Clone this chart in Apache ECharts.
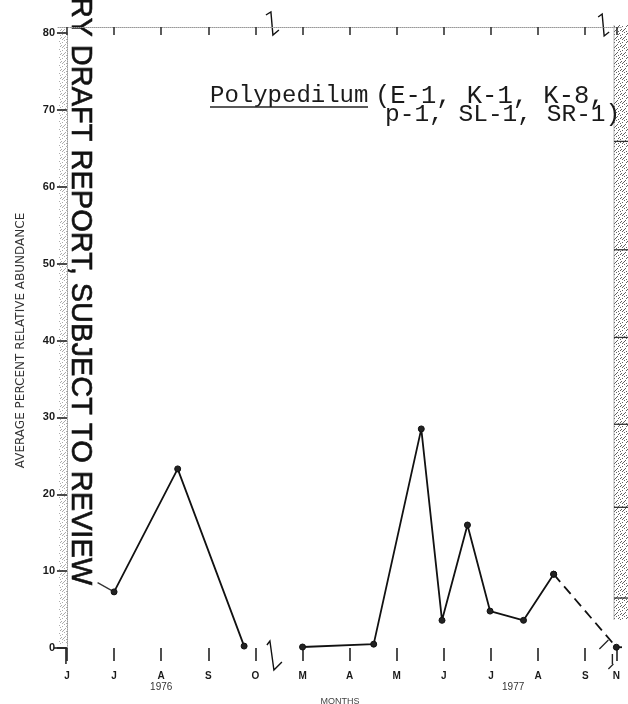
<!DOCTYPE html>
<html>
<head>
<meta charset="utf-8">
<title>Polypedilum relative abundance</title>
<script src="https://cdn.jsdelivr.net/npm/echarts@6/dist/echarts.min.js"></script>
<style>
  html, body { margin: 0; padding: 0; background: #ffffff; }
  #chart { width: 628px; height: 704px; }
</style>
</head>
<body>
<div id="chart"></div>
<script>
// Month ticks along the sampling period (1976 and 1977, with a break between seasons)
const monthLabels = ['J', 'J', 'A', 'S', 'O', 'M', 'A', 'M', 'J', 'J', 'A', 'S', 'N'];
const monthPos = [0, 1, 2, 3, 4, 5, 6, 7, 8, 9, 10, 11, 11.66];
const yearLabels = ['1976', '1977'];
const yearPos = [2, 9.47];

// Average percent relative abundance; x is the position in months on the axis
const lead1976 = [[0.65, 8.5], [1.0, 7.3]];
const season1976 = [[1.0, 7.3], [2.35, 23.3], [3.76, 0.25]];
const season1977 = [[5.0, 0.13], [6.51, 0.5], [7.52, 28.5], [7.96, 3.6], [8.5, 16.0], [8.98, 4.8], [9.69, 3.6], [10.33, 9.6]];
const lateSeason1977 = [[10.33, 9.6], [11.66, 0.1]];
const tail1977 = [[11.66, 0.1], [11.78, 0.1]];

// Tick marks on the shaded right-hand margin (percent scale)
const marginTicks = [65.9, 51.8, 40.4, 29.1, 18.3, 6.5];

const X_MIN = -0.19, X_MAX = 11.78;

function stipple(alpha) {
  const c = document.createElement('canvas');
  c.width = 8; c.height = 8;
  const g = c.getContext('2d');
  g.fillStyle = 'rgba(70,70,70,' + alpha + ')';
  [[0,0],[3,1],[6,2],[1,4],[5,5],[2,7],[7,6],[4,3],[6,7],[2,2],[0,5],[4,6]].forEach(function (d) { g.fillRect(d[0], d[1], 1, 1); });
  return c;
}

const labelFont = { fontFamily: 'Liberation Sans', fontWeight: 'bold', fontSize: 11, color: '#1a1a1a' };
const lineStyle = { color: '#111', width: 1.8 };
const markStyle = { color: '#222', borderColor: '#111', borderWidth: 1 };

const chart = echarts.init(document.getElementById('chart'), null, { renderer: 'canvas' });

chart.setOption({
  backgroundColor: '#ffffff',
  animation: false,
  grid: { left: 58, right: 6, top: 33, bottom: 56, outerBoundsMode: 'none', containLabel: false },
  xAxis: [
    {
      type: 'value', min: X_MIN, max: X_MAX, position: 'bottom', offset: 4,
      axisLine: { show: false },
      splitLine: { show: false },
      axisTick: { show: true, length: 13, customValues: monthPos, lineStyle: { color: '#222', width: 1.6 } },
      axisLabel: {
        show: true, margin: 19, customValues: monthPos, ...labelFont, fontSize: 10,
        formatter: function (v) { const i = monthPos.indexOf(v); return i >= 0 ? monthLabels[i] : ''; }
      }
    },
    {
      type: 'value', min: X_MIN, max: X_MAX, position: 'bottom', offset: 4,
      axisLine: { show: false }, splitLine: { show: false }, axisTick: { show: false },
      axisLabel: {
        show: true, margin: 30, customValues: yearPos, fontFamily: 'Liberation Sans', fontSize: 10, color: '#333',
        formatter: function (v) { const i = yearPos.indexOf(v); return i >= 0 ? yearLabels[i] : ''; }
      },
      name: 'MONTHS', nameLocation: 'middle', nameGap: 39,
      nameTextStyle: { fontFamily: 'Liberation Sans', fontSize: 9, color: '#444' }
    },
    {
      type: 'value', min: X_MIN, max: X_MAX, position: 'top', offset: 6,
      axisLine: { show: true, lineStyle: { color: '#999', type: 'dotted', width: 1 } },
      splitLine: { show: false },
      axisTick: { show: true, inside: true, length: 8, customValues: monthPos, lineStyle: { color: '#333', width: 1.6 } },
      axisLabel: { show: false }
    }
  ],
  yAxis: {
    type: 'value', min: 0, max: 80, interval: 10,
    axisLine: { show: true, lineStyle: { color: '#999', type: 'dotted' } },
    axisTick: { show: true, length: 10, lineStyle: { color: '#222', width: 1.6 } },
    splitLine: { show: false },
    axisLabel: { margin: 3, ...labelFont, fontSize: 11 },
    name: 'AVERAGE PERCENT RELATIVE ABUNDANCE', nameLocation: 'middle', nameRotate: 90, nameGap: 31,
    nameTextStyle: { fontFamily: 'DejaVu Sans', fontSize: 12, color: '#333' }
  },
  series: [
    { type: 'line', data: lead1976, showSymbol: false, lineStyle: { color: '#333', width: 1.3 }, silent: true },
    { type: 'line', data: season1976, symbol: 'circle', symbolSize: 6, itemStyle: markStyle, lineStyle: lineStyle },
    { type: 'line', data: season1977, symbol: 'circle', symbolSize: 6, itemStyle: markStyle, lineStyle: lineStyle },
    { type: 'line', data: lateSeason1977, symbol: 'circle', symbolSize: 6, itemStyle: markStyle,
      lineStyle: { color: '#111', width: 1.8, type: [10, 6] } },
    { type: 'line', data: tail1977, showSymbol: false, lineStyle: lineStyle }
  ]
});

// Decorations anchored on the axes: axis breaks, shaded margins, title and stamp
const px = function (x, y) { return chart.convertToPixel({ gridIndex: 0 }, [x, y]); };
const g0 = px(0, 0), gTop = px(0, 80);
const leftX = px(X_MIN, 0)[0], rightX = px(X_MAX, 0)[0];
const breakA = px(4.35, 0)[0];
const breakB = px(11.38, 0)[0];
const sN = px(11.3, 0)[0];

const breakStroke = { stroke: '#111', lineWidth: 1.4, fill: null };
const monoFont = '"Liberation Mono", monospace';

const graphics = [
  // shaded strip along the left axis
  { type: 'rect', shape: { x: leftX + 1, y: gTop[1] - 4, width: 9, height: g0[1] - gTop[1] }, style: { fill: { image: stipple(0.45), repeat: 'repeat' } }, silent: true },
  // shaded strip along the right margin
  { type: 'rect', shape: { x: rightX - 8, y: gTop[1] - 8, width: 14, height: g0[1] - gTop[1] - 20 }, style: { fill: { image: stipple(0.85), repeat: 'repeat' } }, silent: true },
  { type: 'line', shape: { x1: rightX - 8, y1: gTop[1] - 8, x2: rightX - 8, y2: g0[1] - 28 }, style: { stroke: '#888', lineWidth: 0.6 }, silent: true },
  // bottom-left corner of the frame
  { type: 'polyline', shape: { points: [[leftX - 4, g0[1]], [g0[0] - 1, g0[1]], [g0[0] - 1, g0[1] + 16]] }, style: breakStroke, silent: true },
  // axis break between seasons, top and bottom
  { type: 'polyline', shape: { points: [[breakA - 6, gTop[1] - 18], [breakA - 1, gTop[1] - 21], [breakA + 1, gTop[1] + 2], [breakA + 7, gTop[1] - 3]] }, style: breakStroke, silent: true },
  { type: 'polyline', shape: { points: [[breakA - 5, g0[1] - 3], [breakA - 2, g0[1] - 7], [breakA + 2, g0[1] + 22], [breakA + 10, g0[1] + 14]] }, style: breakStroke, silent: true },
  // axis break before November
  { type: 'polyline', shape: { points: [[breakB - 5, gTop[1] - 16], [breakB - 1, gTop[1] - 19], [breakB + 1, gTop[1] + 3], [breakB + 6, gTop[1] - 1]] }, style: breakStroke, silent: true },
  { type: 'line', shape: { x1: sN, y1: g0[1] + 1, x2: sN + 9, y2: g0[1] - 8 }, style: { stroke: '#222', lineWidth: 1.2 }, silent: true },
  { type: 'line', shape: { x1: sN + 9, y1: g0[1] + 21, x2: sN + 14, y2: g0[1] + 16 }, style: { stroke: '#222', lineWidth: 1.2 }, silent: true },
  { type: 'line', shape: { x1: sN + 13, y1: g0[1] + 6, x2: sN + 13, y2: g0[1] + 16 }, style: { stroke: '#222', lineWidth: 1.4 }, silent: true },
  // taxon label
  { type: 'text', x: 210, y: 96, style: { text: 'Polypedilum', font: '24px ' + monoFont, fill: '#1a1a1a', textAlign: 'left', textVerticalAlign: 'middle' }, silent: true },
  { type: 'line', shape: { x1: 210, y1: 107, x2: 368, y2: 107 }, style: { stroke: '#222', lineWidth: 1.4 }, silent: true },
  { type: 'text', x: 375, y: 96, style: { text: '(E-1, K-1, K-8,', font: '25.5px ' + monoFont, fill: '#1a1a1a', textAlign: 'left', textVerticalAlign: 'middle' }, silent: true },
  { type: 'text', x: 385, y: 115, style: { text: 'p-1, SL-1, SR-1)', font: '24.5px ' + monoFont, fill: '#1a1a1a', textAlign: 'left', textVerticalAlign: 'middle' }, silent: true },
  // review stamp running down the left side
  { type: 'text', x: 80, y: -3, rotation: -Math.PI / 2, style: { text: 'RY DRAFT REPORT, SUBJECT TO REVIEW', font: '29px "Liberation Sans"', fill: '#111', stroke: '#111', lineWidth: 0.6, textAlign: 'left', textVerticalAlign: 'middle' }, silent: true }
];

// short ticks across the right-hand shaded margin
marginTicks.forEach(function (v) {
  const y = px(0, v)[1];
  graphics.push({ type: 'line', shape: { x1: rightX - 8, y1: y, x2: rightX + 6, y2: y }, style: { stroke: '#333', lineWidth: 1.3 }, silent: true });
});

chart.setOption({ graphic: graphics });
</script>
</body>
</html>
